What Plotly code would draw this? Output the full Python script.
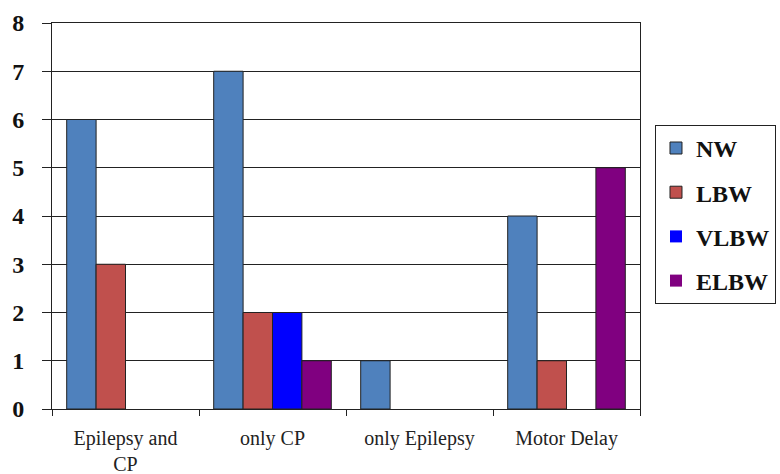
import plotly.graph_objects as go

categories = ["Epilepsy and<br>CP", "only CP", "only Epilepsy", "Motor Delay"]
nw = [6, 7, 1, 4]
lbw = [3, 2, 0, 1]
vlbw = [0, 2, 0, 0]
elbw = [0, 1, 0, 5]
y_ticks = [0, 1, 2, 3, 4, 5, 6, 7, 8]

series = [
    ("NW", nw, "#4F81BD"),
    ("LBW", lbw, "#C0504D"),
    ("VLBW", vlbw, "#0000FF"),
    ("ELBW", elbw, "#800080"),
]

fig = go.Figure()
for i, (name, vals, color) in enumerate(series):
    # no outline on empty bars so nothing is drawn along the baseline
    outline = [1 if v else 0 for v in vals]
    fig.add_trace(go.Bar(
        name=name, x=categories, y=vals,
        marker=dict(color=color, line=dict(color="#222222", width=outline)),
        legendgroup=f"g{i}",
    ))

serif = "Liberation Serif"
fig.update_layout(
    width=780, height=474,
    margin=dict(l=52, r=140, t=23, b=65, autoexpand=False),
    paper_bgcolor="white", plot_bgcolor="white",
    barmode="group", bargap=0.2, bargroupgap=0,
    font=dict(family=serif, color="#111111"),
    showlegend=True,
    legend=dict(
        x=1.0255, y=0.736, xanchor="left", yanchor="top",
        bordercolor="#222222", borderwidth=1,
        font=dict(family=serif, size=24, color="#111111", weight="bold"),
        tracegroupgap=10, itemwidth=30,
    ),
    xaxis=dict(
        automargin=False,
        showline=True, linecolor="#222222", linewidth=1, mirror=True,
        ticks="outside", tickson="boundaries", ticklen=6, tickcolor="#222222",
        tickfont=dict(family=serif, size=20, color="#222222"),
        ticklabelstandoff=11,
        showgrid=False,
    ),
    yaxis=dict(
        automargin=False,
        range=[0, 8], tickvals=y_ticks,
        showline=True, linecolor="#222222", linewidth=1, mirror=True,
        ticks="outside", ticklen=9, tickcolor="#222222",
        tickfont=dict(family=serif, size=24, color="#111111", weight="bold"),
        ticklabelstandoff=13,
        showgrid=True, gridcolor="#222222", gridwidth=1,
        zeroline=False,
    ),
)

fig.write_html("out.html")
